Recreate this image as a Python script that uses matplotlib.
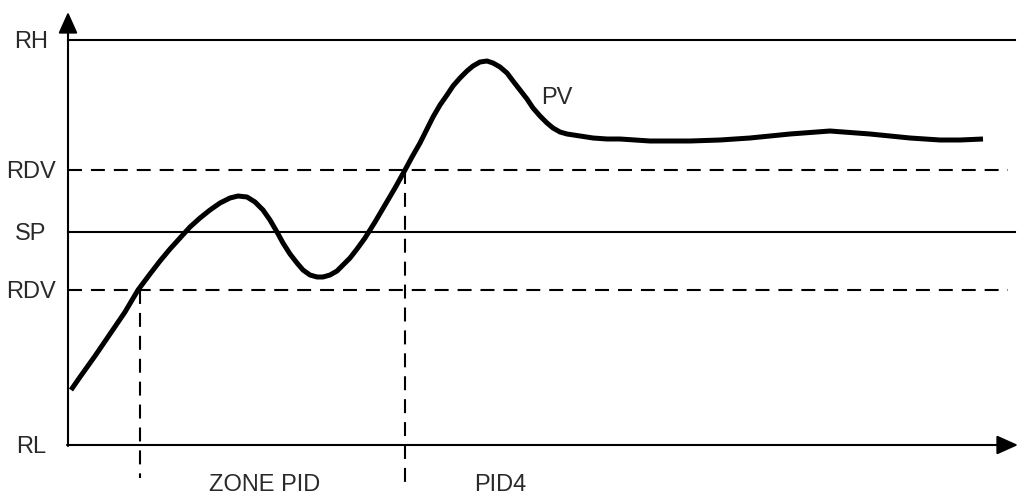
import matplotlib
matplotlib.use('Agg')
import matplotlib.pyplot as plt

plt.rcParams['font.family'] = ['Liberation Sans', 'DejaVu Sans']

# picture coordinates (x to the right, y downwards)
level_names = ['RH', 'RDV', 'SP', 'RDV', 'RL']
level_y = [40, 170, 232, 290, 445]
level_style = ['solid', 'dashed', 'solid', 'dashed', 'axis']

pv_x = [71, 80, 95, 110, 125, 138, 150, 160, 170, 180, 190, 200, 210, 220, 230, 238,
        247, 255, 263, 270, 277, 283, 290, 297, 303, 310, 317, 323, 330, 337, 343, 350,
        357, 365, 375, 385, 395, 405, 412, 420, 427, 433, 440, 447, 453, 460, 467, 473,
        480, 487, 493, 500, 507, 513, 520, 527, 533, 540, 547, 553, 560, 567, 580, 593,
        607, 620, 650, 690, 720, 750, 790, 830, 870, 910, 940, 960, 983]
pv_y = [390, 377, 356, 334, 312, 290, 274, 261, 249, 238, 227, 218, 210, 203, 198, 196,
        197, 202, 210, 220, 232, 243, 254, 263, 270, 275, 277, 277, 275, 271, 265, 258,
        249, 238, 222, 205, 188, 170, 157, 143, 129, 117, 105, 95, 86, 78, 71, 66,
        62, 61, 63, 67, 73, 81, 90, 99, 108, 116, 123, 128, 132, 134, 136, 138,
        139, 139, 141, 141, 140, 138, 134, 131, 134, 138, 140, 140, 139]

zone_x = [140, 405]
zone_top = [290, 170]
zone_bottom = [478, 486]
zone_labels = ['ZONE PID', 'PID4']
zone_label_x = [265, 500]

x0 = 68
x_end = 1018
y_top = 12

fig = plt.figure(figsize=(10.19, 4.97), dpi=100)
ax = fig.add_axes([0, 0, 1, 1])
ax.set_xlim(0, 1019)
ax.set_ylim(497, 0)
ax.axis('off')

dash = (0, (6.7, 4.3))
for name, y, st in zip(level_names, level_y, level_style):
    if st == 'solid':
        ax.plot([x0, 1015], [y, y], color='black', lw=1.5)
    elif st == 'dashed':
        ax.plot([x0, 1008], [y, y], color='black', lw=1.5, linestyle=dash)
    ax.text(31, y + 2, name, ha='center', va='center', fontsize=17, color='#2a2a2a')

for x, t, b in zip(zone_x, zone_top, zone_bottom):
    ax.plot([x, x], [t, b], color='black', lw=1.5, linestyle=dash)

for lab, lx in zip(zone_labels, zone_label_x):
    ax.text(lx, 485, lab, ha='center', va='center', fontsize=17, color='#2a2a2a')

# axes with arrows
arrow = dict(arrowstyle='-|>,head_length=1.0,head_width=0.45', lw=1.5,
             color='black', mutation_scale=13, shrinkA=0, shrinkB=0)
ax.annotate('', xy=(x0, y_top), xytext=(x0, level_y[-1] + 1), arrowprops=arrow)
ax.annotate('', xy=(x_end, level_y[-1]), xytext=(x0 - 1, level_y[-1]), arrowprops=arrow)

ax.plot(pv_x, pv_y, color='black', lw=3.6, solid_joinstyle='round', solid_capstyle='butt')
ax.text(557, 98, 'PV', ha='center', va='center', fontsize=17, color='#2a2a2a')

fig.savefig('out.png', dpi=100)
